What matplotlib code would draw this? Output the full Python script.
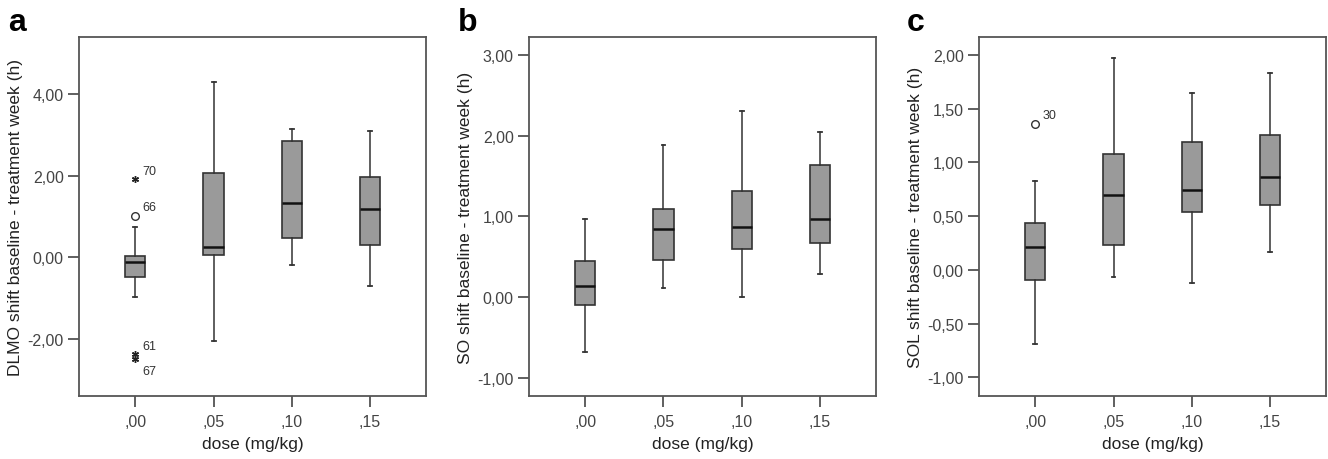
import numpy as np
import matplotlib.pyplot as plt

plt.rcParams['font.family'] = ['Liberation Sans', 'DejaVu Sans']

doses = [',00', ',05', ',10', ',15']

# box summaries: whisker low, Q1, median, Q3, whisker high
dlmo_lo = [-0.97, -2.07, -0.18, -0.71]
dlmo_q1 = [-0.48, 0.06, 0.47, 0.29]
dlmo_med = [-0.11, 0.24, 1.32, 1.19]
dlmo_q3 = [0.04, 2.08, 2.86, 1.97]
dlmo_hi = [0.73, 4.30, 3.16, 3.11]

so_lo = [-0.67, 0.12, 0.00, 0.29]
so_q1 = [-0.095, 0.46, 0.60, 0.67]
so_med = [0.14, 0.85, 0.87, 0.97]
so_q3 = [0.45, 1.095, 1.32, 1.64]
so_hi = [0.975, 1.885, 2.30, 2.05]

sol_lo = [-0.69, -0.07, -0.12, 0.165]
sol_q1 = [-0.09, 0.235, 0.54, 0.60]
sol_med = [0.215, 0.70, 0.74, 0.865]
sol_q3 = [0.44, 1.08, 1.19, 1.25]
sol_hi = [0.83, 1.97, 1.645, 1.83]

# outliers: group index, value, marker kind, case label
dlmo_out_grp = [0, 0, 0, 0]
dlmo_out_val = [1.92, 1.02, -2.39, -2.50]
dlmo_out_kind = ['star', 'circle', 'star', 'star']
dlmo_out_lab = ['70', '66', '61', '67']

sol_out_grp = [0]
sol_out_val = [1.36]
sol_out_kind = ['circle']
sol_out_lab = ['30']

panels = [
    ('a', 'DLMO shift baseline - treatment week (h)',
     (dlmo_lo, dlmo_q1, dlmo_med, dlmo_q3, dlmo_hi),
     [-2, 0, 2, 4], ['-2,00', '0,00', '2,00', '4,00'], (-3.41, 5.41),
     (dlmo_out_grp, dlmo_out_val, dlmo_out_kind, dlmo_out_lab)),
    ('b', 'SO shift baseline - treatment week (h)',
     (so_lo, so_q1, so_med, so_q3, so_hi),
     [-1, 0, 1, 2, 3], ['-1,00', '0,00', '1,00', '2,00', '3,00'], (-1.22, 3.22),
     None),
    ('c', 'SOL shift baseline - treatment week (h)',
     (sol_lo, sol_q1, sol_med, sol_q3, sol_hi),
     [-1, -0.5, 0, 0.5, 1, 1.5, 2],
     ['-1,00', '-0,50', '0,00', '0,50', '1,00', '1,50', '2,00'], (-1.172, 2.165),
     (sol_out_grp, sol_out_val, sol_out_kind, sol_out_lab)),
]

fig = plt.figure(figsize=(13.28, 4.6), dpi=100)
lefts = [0.0595, 0.3983, 0.7372]
letter_x = [0.006, 0.345, 0.683]
edge = '#333333'

for i, (letter, ylab, summ, yt, ytl, ylim, outl) in enumerate(panels):
    ax = fig.add_axes([lefts[i], 0.137, 0.2615, 0.7804])
    lo, q1, med, q3, hi = summ
    stats = []
    for k in range(len(doses)):
        stats.append(dict(whislo=lo[k], q1=q1[k], med=med[k], q3=q3[k],
                          whishi=hi[k], fliers=[]))
    ax.bxp(stats, positions=range(len(doses)), widths=0.26, patch_artist=True,
           showfliers=False, capwidths=0.05,
           boxprops=dict(facecolor='#9a9a9a', edgecolor=edge, linewidth=1.2),
           medianprops=dict(color='#111111', linewidth=1.8),
           whiskerprops=dict(color=edge, linewidth=1.1),
           capprops=dict(color=edge, linewidth=1.3))

    if outl is not None:
        grp, val, kind, lab = outl
        for g, v, kd, lb in zip(grp, val, kind, lab):
            if kd == 'circle':
                ax.plot(g, v, 'o', ms=5.5, mfc='white', mec=edge, mew=1.0)
            else:
                ax.plot(g, v, marker=(6, 2, 0), ms=5, color='#222222', mew=1.0)
            dy = -9 if lb == '67' else 6
            ax.annotate(lb, (g, v), xytext=(5, dy), textcoords='offset points',
                        fontsize=9, color='#333333', va='center')

    ax.set_xlim(-0.72, 3.72)
    ax.set_ylim(*ylim)
    ax.set_xticks(range(len(doses)))
    ax.set_xticklabels(doses)
    ax.set_yticks(yt)
    ax.set_yticklabels(ytl)
    ax.tick_params(length=8, width=1.2, color='#444444', labelsize=11.5,
                   labelcolor='#444444', pad=3)
    ax.tick_params(axis='x', pad=5)
    for s in ax.spines.values():
        s.set_color('#555555')
        s.set_linewidth(1.3)
    ax.set_xlabel('dose (mg/kg)', fontsize=12.5, color='#222222', labelpad=5)
    ax.set_ylabel(ylab, fontsize=12.5, color='#222222', labelpad=3)
    fig.text(letter_x[i], 0.933, letter, fontsize=23, fontweight='bold',
             va='baseline', ha='left')

fig.savefig('out.png', dpi=100)
